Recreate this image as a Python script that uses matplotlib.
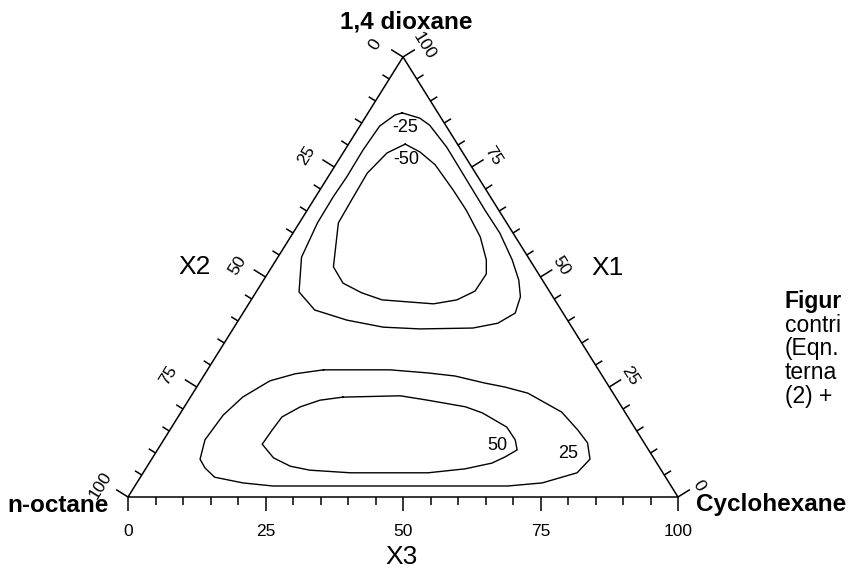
import numpy as np
import matplotlib.pyplot as plt

plt.rcParams['font.family'] = ['Liberation Sans', 'DejaVu Sans']

# contour lines, given as (X1 = 1,4 dioxane %, X3 = cyclohexane %)
neg25_x1 = [87.3, 86.1, 84.5, 79.5, 72.0, 65.2, 60.0, 53.9, 49.3, 45.5, 41.8, 39.5, 38.4,
            38.2, 38.6, 40.2, 42.5, 46.6, 54.5, 62.3, 68.2, 72.7, 78.9, 84.3, 86.8, 87.3]
neg25_x3 = [6.2, 10.0, 12.6, 18.2, 25.6, 32.3, 37.6, 42.9, 46.4, 48.6, 49.5, 47.5, 43.5,
            34.0, 27.1, 19.7, 12.7, 7.8, 4.3, 3.3, 3.2, 3.4, 3.3, 3.6, 5.1, 6.2]

neg50_x1 = [80.2, 78.4, 75.5, 69.8, 65.2, 59.1, 53.9, 50.7, 46.8, 44.8, 43.9, 44.8, 46.4,
            48.6, 52.3, 62.3, 67.5, 73.6, 78.2, 80.2]
neg50_x3 = [10.3, 13.9, 18.1, 24.2, 28.9, 34.5, 38.2, 39.8, 39.7, 37.4, 33.6, 23.8, 19.3,
            14.8, 11.2, 7.1, 6.9, 6.7, 8.0, 10.3]

pos25_x1 = [28.9, 28.9, 28.2, 27.5, 25.9, 25.0, 23.6, 19.3, 15.2, 12.3, 8.6, 5.5, 3.2, 2.5,
            2.5, 2.5, 3.2, 4.5, 6.6, 8.6, 13.0, 18.6, 22.7, 26.4, 28.0, 28.9]
pos25_x3 = [21.1, 33.2, 40.4, 45.7, 51.9, 56.0, 60.9, 69.2, 74.2, 77.4, 79.7, 78.9, 73.7, 67.8,
            48.2, 25.1, 19.3, 13.5, 10.7, 8.8, 7.5, 8.0, 9.5, 12.6, 16.4, 21.1]

pos50_x1 = [22.7, 23.0, 22.0, 20.5, 19.1, 15.9, 13.0, 10.7, 9.1, 7.7, 6.4, 5.5, 5.5, 6.1,
            7.0, 8.9, 12.0, 15.2, 18.2, 20.5, 22.0, 22.7]
pos50_x3 = [27.7, 38.0, 43.5, 51.1, 54.9, 60.9, 63.9, 65.4, 64.0, 62.3, 58.1, 51.8, 37.7, 30.0,
            26.0, 22.0, 18.4, 18.6, 18.9, 21.1, 23.9, 27.7]

levels = ['-25', '-50', '50', '25']
label_x1 = [83.9, 76.8, 11.8, 10.0]
label_x3 = [8.5, 12.1, 61.2, 75.0]

tick_values = list(range(0, 101, 5))
tick_labels = ['0', '25', '50', '75', '100']

# caption lines running off the right edge of the page
caption = ['Figur', 'contri', '(Eqn.', 'terna', '(2) +']


def to_xy(x1, x3):
    x1 = np.asarray(x1, dtype=float)
    x3 = np.asarray(x3, dtype=float)
    return x3 + x1 / 2, x1


W, H = 849, 569
L, B, R, T = 128, 497, 678, 57          # triangle box in pixels
sx, sy = (R - L) / 100, (B - T) / 100   # pixels per data unit

fig = plt.figure(figsize=(W / 100, H / 100), dpi=100)
ax = fig.add_axes([L / W, 1 - B / H, (R - L) / W, (B - T) / H])
ax.set_xlim(0, 100)
ax.set_ylim(0, 100)
ax.axis('off')

kw = dict(color='black', lw=1.1, clip_on=False, solid_capstyle='butt')

# frame
ax.plot([0, 100, 50, 0], [0, 0, 100, 0], **kw)

# ticks on the three sides
nx, ny = 0.848, 0.53
for v in tick_values:
    n = 14 if v % 25 == 0 else 8
    # bottom (X3)
    ax.plot([v, v], [0, -n / sy], **kw)
    # left (X2: 0 at top, 100 at n-octane)
    x0, y0 = to_xy(100 - v, 0)
    ax.plot([x0, x0 - nx * n / sx], [y0, y0 + ny * n / sy], **kw)
    # right (X1: 0 at cyclohexane, 100 at top)
    x1, y1 = to_xy(v, 100 - v)
    ax.plot([x1, x1 + nx * n / sx], [y1, y1 + ny * n / sy], **kw)

for lab in tick_labels:
    v = int(lab)
    ax.text(v, -35 / sy, lab, ha='center', va='center', fontsize=12.5)
    x0, y0 = to_xy(100 - v, 0)
    ax.text(x0 - 28 / sx, y0 + 12 / sy, lab, ha='center', va='center',
            fontsize=12.5, rotation=58, rotation_mode='anchor')
    x1, y1 = to_xy(v, 100 - v)
    ax.text(x1 + 21 / sx, y1 + 11 / sy, lab, ha='center', va='center',
            fontsize=12.5, rotation=-58, rotation_mode='anchor')

# contours
for c1, c3 in [(neg25_x1, neg25_x3), (neg50_x1, neg50_x3),
               (pos25_x1, pos25_x3), (pos50_x1, pos50_x3)]:
    cx, cy = to_xy(c1, c3)
    ax.plot(cx, cy, color='black', lw=1.0)

lx, ly = to_xy(label_x1, label_x3)
for t, x, y in zip(levels, lx, ly):
    ax.text(x, y, t, ha='center', va='center', fontsize=13)

# corner names
ax.text((406 - L) / sx, (B - 22) / sy, '1,4 dioxane', ha='center', va='center',
        fontsize=17.5, fontweight='bold')
ax.text((58 - L) / sx, (B - 505) / sy, 'n-octane', ha='center', va='center',
        fontsize=17.5, fontweight='bold')
ax.text((771 - L) / sx, (B - 505) / sy, 'Cyclohexane', ha='center', va='center',
        fontsize=17.5, fontweight='bold')

# axis names
ax.text((195 - L) / sx, (B - 267) / sy, 'X2', ha='center', va='center', fontsize=19)
ax.text((608 - L) / sx, (B - 268) / sy, 'X1', ha='center', va='center', fontsize=19)
ax.text((402 - L) / sx, (B - 557) / sy, 'X3', ha='center', va='center', fontsize=19)

for i, s in enumerate(caption):
    fig.text(785 / W, 1 - (302 + 23.5 * i) / H, s, ha='left', va='center', fontsize=16.5,
             fontweight='bold' if i == 0 else 'normal')

fig.savefig('out.png', dpi=100)
